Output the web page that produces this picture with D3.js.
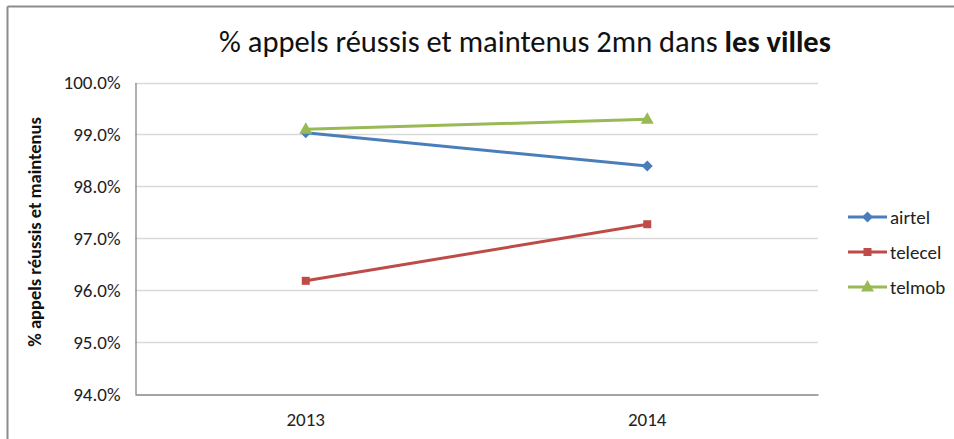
<!DOCTYPE html>
<html><head><meta charset="utf-8">
<script src="https://cdn.jsdelivr.net/npm/d3@7"></script>
<style>
html,body{margin:0;padding:0;background:#fff;}
svg{display:block;font-family:Carlito,Calibri,"Open Sans",Lato,sans-serif;}
</style></head>
<body><svg id="c" width="954" height="439"></svg>
<script>
const categories = ["2013", "2014"];
const seriesNames = ["airtel", "telecel", "telmob"];
const airtel = [0.9903, 0.9839];
const telecel = [0.9618, 0.9727];
const telmob = [0.9910, 0.9929];
const yTicks = [0.94, 0.95, 0.96, 0.97, 0.98, 0.99, 1.00];
const colors = ["#4a7ebb", "#be4b48", "#98b954"];
const seriesValues = [airtel, telecel, telmob];
const FONT = "Carlito,Calibri,'Open Sans',Lato,sans-serif";

const svg = d3.select("#c");
svg.append("line").attr("x1",7.5).attr("x2",954).attr("y1",6.5).attr("y2",6.5).attr("stroke","#8c8c8c").attr("stroke-width",2);
svg.append("line").attr("x1",7.5).attr("x2",7.5).attr("y1",6.5).attr("y2",439).attr("stroke","#8c8c8c").attr("stroke-width",2);

const L=135, R=818, T=82.5, B=394;
const x = d3.scaleBand().domain(categories).range([L,R]);
const y = d3.scaleLinear().domain([0.94,1.00]).range([B,T]);

svg.append("g").selectAll("line").data(yTicks.slice(1)).join("line")
  .attr("x1",L).attr("x2",R).attr("y1",d=>Math.round(y(d))+0.5).attr("y2",d=>Math.round(y(d))+0.5)
  .attr("stroke","#d9d9d9").attr("stroke-width",1.3);

const yAxis = d3.axisLeft(y).tickValues(yTicks).tickFormat(d3.format(".1%")).tickSize(0).tickPadding(15);
const gy = svg.append("g").attr("transform",`translate(${L+0.5},0)`).call(yAxis);
gy.attr("font-family",FONT);
gy.select(".domain").attr("stroke","#868686").attr("stroke-width",1.3);
gy.selectAll("text").attr("font-size","19px").attr("fill","#222");

const xAxis = d3.axisBottom(x).tickSize(0).tickPadding(18);
const gx = svg.append("g").attr("transform",`translate(0,${B+0.5})`).call(xAxis);
gx.attr("font-family",FONT);
gx.select(".domain").attr("stroke","#868686").attr("stroke-width",1.3);
gx.selectAll("text").attr("font-size","19px").attr("fill","#222");

const cx = d => x(d)+x.bandwidth()/2;

function marker(g, type, color, px, py){
  if(type===0){
    g.append("path").attr("d",`M${px},${py-5.5}L${px+5.5},${py}L${px},${py+5.5}L${px-5.5},${py}Z`).attr("fill",color);
  } else if(type===1){
    g.append("rect").attr("x",px-4).attr("y",py-4).attr("width",8).attr("height",8).attr("fill",color);
  } else {
    g.append("path").attr("d",`M${px},${py-7}L${px+6.5},${py+4.5}L${px-6.5},${py+4.5}Z`).attr("fill",color);
  }
}

seriesValues.forEach((vals,i)=>{
  const g = svg.append("g");
  const line = d3.line().x((d,j)=>cx(categories[j])).y(d=>y(d));
  g.append("path").datum(vals).attr("d",line).attr("fill","none").attr("stroke",colors[i]).attr("stroke-width",3);
  vals.forEach((v,j)=>marker(g,i,colors[i],cx(categories[j]),y(v)));
});

const legY = [217, 252, 287];
seriesNames.forEach((n,i)=>{
  const g = svg.append("g");
  g.append("line").attr("x1",848).attr("x2",887).attr("y1",legY[i]).attr("y2",legY[i]).attr("stroke",colors[i]).attr("stroke-width",3);
  marker(g,i,colors[i],867.5,legY[i]);
  g.append("text").attr("x",890).attr("y",legY[i]).attr("dy","0.35em").attr("font-size","19px").attr("fill","#222").text(n);
});

const t = svg.append("text").attr("x",525).attr("y",52).attr("text-anchor","middle").attr("font-size","30.5px").attr("fill","#111");
t.append("tspan").text("% appels réussis et maintenus 2mn dans ");
t.append("tspan").attr("font-weight","bold").text("les villes");

svg.append("text").attr("transform","translate(41,232) rotate(-90)").attr("text-anchor","middle")
  .attr("font-size","18.5px").attr("font-weight","bold").attr("fill","#111").text("% appels réussis et maintenus");
</script></body></html>
